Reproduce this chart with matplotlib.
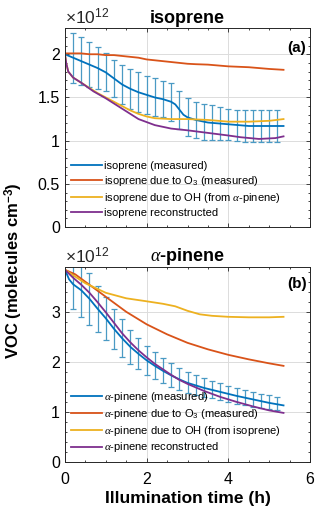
import numpy as np
import matplotlib
matplotlib.use("Agg")
import matplotlib.pyplot as plt
from matplotlib.ticker import AutoMinorLocator, FormatStrFormatter, MultipleLocator

plt.rcParams['font.family'] = ['Liberation Sans', 'DejaVu Sans']
plt.rcParams['mathtext.fontset'] = 'custom'
plt.rcParams['mathtext.rm'] = 'Liberation Sans'
plt.rcParams['mathtext.it'] = 'Liberation Serif:italic'
plt.rcParams['mathtext.bf'] = 'Liberation Sans:bold'

# values in units of 1e12 molecules cm-3, time in hours
# ---- isoprene panel ----
iso_t = [0, 0.2, 0.4, 0.6, 0.8, 1.0, 1.2, 1.4, 1.6, 1.8, 2.0, 2.2, 2.4, 2.6,
         2.7, 2.8, 2.9, 3.0, 3.2, 3.5, 4.0, 4.5, 5.0, 5.35]
iso_meas = [2.00, 1.96, 1.92, 1.88, 1.84, 1.79, 1.72, 1.65, 1.60, 1.56, 1.53,
            1.50, 1.48, 1.45, 1.42, 1.36, 1.30, 1.27, 1.24, 1.21, 1.19, 1.17,
            1.17, 1.17]
iso_o3 = [2.01, 2.01, 2.01, 2.00, 2.00, 1.99, 1.99, 1.98, 1.97, 1.96, 1.94,
          1.93, 1.92, 1.91, 1.905, 1.90, 1.895, 1.89, 1.885, 1.88, 1.86, 1.85,
          1.83, 1.82]
iso_oh_t = [0, 0.03, 0.08, 0.2, 0.4, 0.6, 0.8, 1.0, 1.2, 1.4, 1.6, 1.8, 2.0,
            2.2, 2.6, 3.0, 3.5, 4.0, 4.5, 5.0, 5.35]
iso_oh = [2.00, 1.90, 1.80, 1.73, 1.67, 1.61, 1.55, 1.50, 1.45, 1.40, 1.35,
          1.31, 1.28, 1.26, 1.25, 1.25, 1.24, 1.22, 1.22, 1.23, 1.25]
iso_rec_t = [0, 0, 0.03, 0.08, 0.2, 0.4, 0.7, 1.0, 1.4, 1.8, 2.2, 2.6, 3.0,
             3.5, 4.0, 4.3, 4.75, 5.15, 5.35]
iso_rec = [0, 2.00, 1.90, 1.80, 1.73, 1.67, 1.57, 1.49, 1.37, 1.25, 1.18,
           1.14, 1.12, 1.09, 1.06, 1.04, 1.02, 1.03, 1.05]

bar_t = np.round(np.arange(0.2, 5.21, 0.2), 2)
iso_bar_mean = [1.96, 1.92, 1.88, 1.84, 1.79, 1.72, 1.65, 1.60, 1.56, 1.53,
                1.50, 1.48, 1.45, 1.36, 1.27, 1.24, 1.22, 1.21, 1.20, 1.19,
                1.18, 1.17, 1.17, 1.17, 1.17, 1.17]
iso_bar_err = [0.29, 0.28, 0.26, 0.24, 0.22, 0.21, 0.22, 0.23, 0.23, 0.22,
               0.22, 0.21, 0.22, 0.22, 0.22, 0.21, 0.21, 0.20, 0.19, 0.18,
               0.18, 0.18, 0.18, 0.18, 0.18, 0.18]

# ---- alpha-pinene panel ----
pin_t = [0, 0.1, 0.2, 0.4, 0.6, 0.8, 1.0, 1.2, 1.4, 1.6, 1.8, 2.0, 2.2, 2.4,
         2.6, 2.8, 3.0, 3.4, 3.8, 4.2, 4.6, 5.0, 5.35]
pin_meas = [3.84, 3.65, 3.55, 3.43, 3.26, 3.06, 2.87, 2.66, 2.47, 2.30, 2.16,
            2.03, 1.92, 1.82, 1.73, 1.65, 1.58, 1.48, 1.40, 1.32, 1.25, 1.18,
            1.13]
pin_rec_t = [0, 0, 0.2, 0.4, 0.6, 0.8, 1.0, 1.2, 1.4, 1.6, 1.8, 2.0, 2.2, 2.4,
             2.6, 2.8, 3.0, 3.4, 3.8, 4.2, 4.6, 5.0, 5.35]
pin_rec = [0, 3.84, 3.68, 3.54, 3.38, 3.19, 2.99, 2.78, 2.57, 2.39, 2.23,
           2.09, 1.96, 1.85, 1.74, 1.64, 1.56, 1.42, 1.30, 1.20, 1.11, 1.03,
           0.98]
pin_o3_t = [0, 0.25, 0.5, 1.0, 1.5, 2.0, 2.5, 3.0, 3.5, 4.0, 4.5, 5.0, 5.35]
pin_o3 = [3.84, 3.75, 3.60, 3.30, 3.00, 2.75, 2.55, 2.38, 2.25, 2.14, 2.05,
          1.97, 1.92]
pin_oh_t = [0, 0.2, 0.5, 1.0, 1.5, 2.0, 2.4, 2.7, 3.0, 3.3, 3.6, 4.0, 4.5,
            5.0, 5.35]
pin_oh = [3.84, 3.73, 3.57, 3.38, 3.27, 3.21, 3.16, 3.11, 3.02, 2.95, 2.92,
          2.90, 2.89, 2.89, 2.90]
pin_bar_mean = [3.55, 3.43, 3.26, 3.06, 2.87, 2.66, 2.47, 2.30, 2.16, 2.03,
                1.92, 1.82, 1.73, 1.65, 1.58, 1.53, 1.48, 1.44, 1.40, 1.36,
                1.32, 1.29, 1.25, 1.22, 1.19, 1.16]
pin_bar_err = [0.50, 0.53, 0.52, 0.46, 0.43, 0.40, 0.38, 0.34, 0.31, 0.29,
               0.27, 0.25, 0.24, 0.22, 0.21, 0.20, 0.19, 0.17, 0.17, 0.16,
               0.16, 0.15, 0.15, 0.14, 0.14, 0.13]

c_blue = '#0072BD'
c_orange = '#D95319'
c_yellow = '#EDB120'
c_purple = '#7E2F8E'
c_err = '#4a9ac4'

fig = plt.figure(figsize=(3.2, 5.15), dpi=100)
ax1 = fig.add_axes([0.203, 0.559, 0.766, 0.386])
ax2 = fig.add_axes([0.203, 0.103, 0.766, 0.379])


def style_axes(ax, ymax, ystep, yfmt):
    ax.set_xlim(0, 6)
    ax.set_ylim(0, ymax)
    ax.xaxis.set_major_locator(MultipleLocator(2))
    ax.xaxis.set_minor_locator(AutoMinorLocator(4))
    ax.yaxis.set_major_locator(MultipleLocator(ystep))
    ax.yaxis.set_minor_locator(AutoMinorLocator(5))
    ax.yaxis.set_major_formatter(FormatStrFormatter(yfmt))
    ax.grid(True, which='major', color='#dcdcdc', lw=0.7)
    ax.set_axisbelow(True)
    ax.tick_params(which='both', direction='in', top=True, right=True,
                   labelsize=11.5, color='#262626', width=0.6)
    ax.tick_params(which='major', length=3)
    ax.tick_params(which='minor', length=1.6)
    ax.tick_params(axis='x', pad=7)
    for s in ax.spines.values():
        s.set_color('#262626')
        s.set_linewidth(0.7)
    ax.text(0.0, 1.008, r'$\times\mathregular{10^{12}}$', transform=ax.transAxes,
            fontsize=12.5, color='#262626', va='bottom', ha='left')


# isoprene
style_axes(ax1, 2.3, 0.5, '%g')
ax1.set_xticklabels([])
ax1.errorbar(bar_t, iso_bar_mean, yerr=iso_bar_err, fmt='none', ecolor=c_err,
             elinewidth=0.9, capsize=2.4, capthick=0.9)
ax1.plot(iso_t, iso_meas, color=c_blue, lw=1.3, label='isoprene (measured)')
ax1.plot(iso_t, iso_o3, color=c_orange, lw=1.3,
         label='isoprene due to O$_3$ (measured)')
ax1.plot(iso_oh_t, iso_oh, color=c_yellow, lw=1.3,
         label=r'isoprene due to OH (from $\alpha$-pinene)')
ax1.plot(iso_rec_t, iso_rec, color=c_purple, lw=1.3,
         label='isoprene reconstructed')
ax1.set_title('isoprene', fontsize=13, fontweight='bold', pad=4)
ax1.text(0.985, 0.9, '(a)', transform=ax1.transAxes, ha='right', va='center',
         fontsize=11, fontweight='bold')
ax1.legend(loc='lower left', bbox_to_anchor=(0.0, 0.02), fontsize=8,
           frameon=False, handlelength=2.8, handletextpad=0.2,
           labelspacing=0.25, borderpad=0.3, borderaxespad=0.2)

# alpha-pinene
style_axes(ax2, 3.9, 1, '%g')
ax2.errorbar(bar_t, pin_bar_mean, yerr=pin_bar_err, fmt='none', ecolor=c_err,
             elinewidth=0.9, capsize=2.4, capthick=0.9)
ax2.plot(pin_t, pin_meas, color=c_blue, lw=1.3,
         label=r'$\alpha$-pinene (measured)')
ax2.plot(pin_o3_t, pin_o3, color=c_orange, lw=1.3,
         label=r'$\alpha$-pinene due to O$_3$ (measured)')
ax2.plot(pin_oh_t, pin_oh, color=c_yellow, lw=1.3,
         label=r'$\alpha$-pinene due to OH (from isoprene)')
ax2.plot(pin_rec_t, pin_rec, color=c_purple, lw=1.3,
         label=r'$\alpha$-pinene reconstructed')
ax2.set_title(r'$\alpha$-pinene', fontsize=13, fontweight='bold', pad=4)
ax2.text(0.985, 0.91, '(b)', transform=ax2.transAxes, ha='right', va='center',
         fontsize=11, fontweight='bold')
ax2.legend(loc='lower left', bbox_to_anchor=(0.0, 0.01), fontsize=8,
           frameon=False, handlelength=2.8, handletextpad=0.2,
           labelspacing=0.25, borderpad=0.3, borderaxespad=0.2)
ax2.set_xlabel('Illumination time (h)', fontsize=12.5, fontweight='bold',
               labelpad=3)

fig.text(0.045, 0.475, r'VOC (molecules cm$^{\mathbf{-3}}$)', rotation=90,
         ha='center', va='center', fontsize=12, fontweight='bold')

fig.savefig('out.png', dpi=100)
